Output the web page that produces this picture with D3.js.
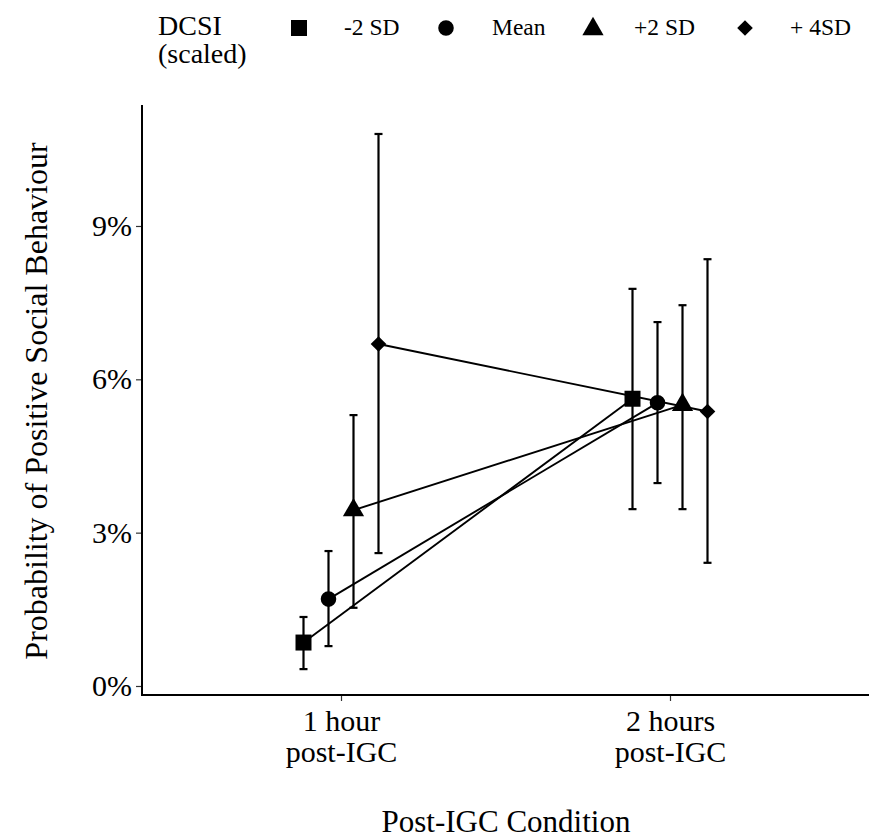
<!DOCTYPE html>
<html>
<head>
<meta charset="utf-8">
<script src="https://cdn.jsdelivr.net/npm/d3@7"></script>
<style>
  html, body { margin: 0; padding: 0; background: #fff; }
  svg { display: block; font-family: "Liberation Serif", "Times New Roman", serif; }
</style>
</head>
<body>
<svg id="chart" width="874" height="838"></svg>
<script>
// Conditions on the x axis (two-line labels)
const conditions = ["1 hour|post-IGC", "2 hours|post-IGC"];
// DCSI (scaled) levels, in dodge order
const groups = ["-2 SD", "Mean", "+2 SD", "+ 4SD"];
// Estimated probability (%) per group, one value per condition
const estimate = {
  "-2 SD": [0.85, 5.62],
  "Mean":  [1.70, 5.54],
  "+2 SD": [3.44, 5.50],
  "+ 4SD": [6.69, 5.37]
};
// Lower and upper interval bounds (%)
const lower = {
  "-2 SD": [0.33, 3.46],
  "Mean":  [0.78, 3.97],
  "+2 SD": [1.53, 3.46],
  "+ 4SD": [2.60, 2.41]
};
const upper = {
  "-2 SD": [1.35, 7.77],
  "Mean":  [2.64, 7.12],
  "+2 SD": [5.30, 7.45],
  "+ 4SD": [10.80, 8.35]
};
const yTicks = [0, 3, 6, 9];

const svg = d3.select("#chart");
const panel = { left: 142, right: 869, top: 105, bottom: 695 };

const x = d3.scalePoint().domain(conditions).range([341, 670]);
const dodge = d3.scalePoint().domain(groups).range([-37.5, 37.5]);
const y = d3.scaleLinear().domain([-0.19, 11.32]).range([695.7, 107.4]);

// Shape for each group
const symbolOf = {
  "-2 SD": d3.symbol().type(d3.symbolSquare).size(256),
  "Mean":  d3.symbol().type(d3.symbolCircle).size(190),
  "+2 SD": d3.symbol().type(d3.symbolTriangle).size(195),
  "+ 4SD": { draw: () => "M0,-7.8L7.8,0L0,7.8L-7.8,0Z" }
};
function symPath(g) {
  const s = symbolOf[g];
  return typeof s === "function" ? s() : s.draw();
}

const rows = [];
groups.forEach(g => conditions.forEach((c, i) => {
  rows.push({ g, c, est: estimate[g][i], lo: lower[g][i], hi: upper[g][i],
              px: x(c) + dodge(g) });
}));

// Axes
const yAxis = d3.axisLeft(y).tickValues(yTicks).tickFormat(d => d + "%")
  .tickSize(6).tickPadding(4);
const gy = svg.append("g").attr("transform", `translate(${panel.left},0)`).call(yAxis);
gy.select(".domain").remove();
gy.selectAll(".tick line").attr("stroke", "#333").attr("stroke-width", 1.2);
gy.selectAll(".tick text").attr("font-size", 30).attr("fill", "#000")
  .attr("font-family", "Liberation Serif");

const xAxis = d3.axisBottom(x).tickSize(6).tickFormat(() => "");
const gx = svg.append("g").attr("transform", `translate(0,${panel.bottom})`).call(xAxis);
gx.select(".domain").remove();
gx.selectAll(".tick line").attr("stroke", "#333").attr("stroke-width", 1.2);
gx.selectAll(".tick").each(function(d) {
  const lines = d.split("|");
  const t = d3.select(this).append("text")
    .attr("text-anchor", "middle").attr("fill", "#000")
    .attr("font-size", 30).attr("font-family", "Liberation Serif");
  lines.forEach((ln, k) => t.append("tspan").attr("x", 0).attr("y", 36 + k * 31).text(ln));
});

// Axis lines
svg.append("line").attr("x1", panel.left).attr("x2", panel.left)
  .attr("y1", panel.top).attr("y2", panel.bottom + 1)
  .attr("stroke", "#000").attr("stroke-width", 2);
svg.append("line").attr("x1", panel.left - 1).attr("x2", panel.right)
  .attr("y1", panel.bottom).attr("y2", panel.bottom)
  .attr("stroke", "#000").attr("stroke-width", 2);

// Connecting lines between conditions
const line = d3.line().x(d => d.px).y(d => y(d.est));
groups.forEach(g => {
  svg.append("path").datum(rows.filter(r => r.g === g))
    .attr("d", line).attr("fill", "none")
    .attr("stroke", "#000").attr("stroke-width", 1.9);
});

// Error bars
const eb = svg.append("g").attr("stroke", "#000").attr("stroke-width", 2.2);
rows.forEach(r => {
  eb.append("line").attr("x1", r.px).attr("x2", r.px)
    .attr("y1", y(r.lo)).attr("y2", y(r.hi));
  [r.lo, r.hi].forEach(v => eb.append("line")
    .attr("x1", r.px - 4).attr("x2", r.px + 4)
    .attr("y1", y(v)).attr("y2", y(v)));
});

// Points
svg.append("g").selectAll("path").data(rows).join("path")
  .attr("d", d => symPath(d.g))
  .attr("transform", d => `translate(${d.px},${y(d.est)})`)
  .attr("fill", "#000");

// Axis titles
svg.append("text").attr("x", 506).attr("y", 832).attr("text-anchor", "middle")
  .attr("font-size", 31).attr("fill", "#000").text("Post-IGC Condition");
svg.append("text").attr("transform", "translate(47,401) rotate(-90)")
  .attr("text-anchor", "middle").attr("font-size", 32).attr("fill", "#000")
  .text("Probability of Positive Social Behaviour");

// Legend
const leg = svg.append("g");
leg.append("text").attr("x", 158).attr("y", 35).attr("font-size", 28).text("DCSI");
leg.append("text").attr("x", 158).attr("y", 63).attr("font-size", 28).text("(scaled)");
const keyX = [299, 446, 593, 745];
const labX = [344, 492, 634, 790];
groups.forEach((g, i) => {
  leg.append("path").attr("d", symPath(g))
    .attr("transform", `translate(${keyX[i]},${g === "+2 SD" ? 29 : 28})`)
    .attr("fill", "#000");
  leg.append("text").attr("x", labX[i]).attr("y", 35)
    .attr("font-size", 23.5).attr("fill", "#000").text(g);
});
</script>
</body>
</html>
